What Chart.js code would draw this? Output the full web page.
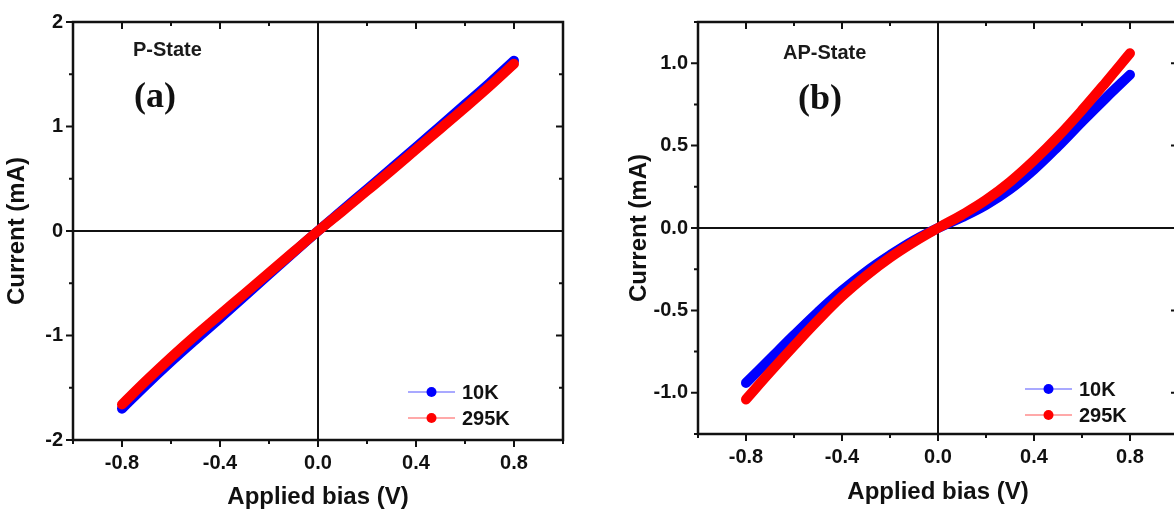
<!DOCTYPE html>
<html>
<head>
<meta charset="utf-8">
<script src="https://cdn.jsdelivr.net/npm/chart.js@4.4.1/dist/chart.umd.min.js"></script>
<style>
  html, body { margin: 0; padding: 0; background: #fff; overflow: hidden; width: 1174px; height: 516px; }
  #wrapA { position: absolute; left: 0; top: 0; width: 590px; height: 516px; }
  #wrapB { position: absolute; left: 592px; top: 0; width: 600px; height: 516px; }
  .state { position: absolute; font-family: 'Liberation Sans', Arial, sans-serif; font-weight: bold; font-size: 20px; color: #1a1a1a; line-height: 1; }
  .tag { position: absolute; font-family: 'Liberation Serif', 'Times New Roman', serif; font-weight: bold; font-size: 36px; color: #111; line-height: 1; }
</style>
</head>
<body>
<div id="wrapA"><canvas id="chartA"></canvas></div>
<div id="wrapB"><canvas id="chartB"></canvas></div>
<div class="state" style="left:133px; top:39px;">P-State</div>
<div class="tag" style="left:134px; top:77px;">(a)</div>
<div class="state" style="left:783px; top:42px;">AP-State</div>
<div class="tag" style="left:798px; top:79px;">(b)</div>

<script>
// datos (V, mA)
const biasVolts = [-0.8, -0.7, -0.6, -0.5, -0.4, -0.3, -0.2, -0.1, 0, 0.1, 0.2, 0.3, 0.4, 0.5, 0.6, 0.7, 0.8];

// (a) P-State
const pState10K  = [-1.70, -1.47, -1.25, -1.04, -0.835, -0.625, -0.415, -0.205, 0, 0.20, 0.40, 0.60, 0.80, 1.005, 1.21, 1.415, 1.63];
const pState295K = [-1.66, -1.43, -1.21, -1.00, -0.80, -0.60, -0.40, -0.20, 0, 0.19, 0.385, 0.58, 0.78, 0.98, 1.18, 1.385, 1.60];

// (b) AP-State
const apState10K  = [-0.94, -0.795, -0.65, -0.51, -0.38, -0.265, -0.165, -0.075, 0, 0.065, 0.14, 0.235, 0.355, 0.495, 0.645, 0.79, 0.93];
const apState295K = [-1.04, -0.875, -0.715, -0.56, -0.415, -0.29, -0.18, -0.085, 0, 0.08, 0.17, 0.28, 0.41, 0.555, 0.715, 0.885, 1.06];

const seriesLabels = ['10K', '295K'];
const seriesColors = ['#0000ff', '#ff0000'];

const xTickValues = [-0.8, -0.4, 0, 0.4, 0.8];
const xTickLabels = ['-0.8', '-0.4', '0.0', '0.4', '0.8'];
const pTickValues = [-2, -1, 0, 1, 2];
const pTickLabels = ['-2', '-1', '0', '1', '2'];
const apTickValues = [-1, -0.5, 0, 0.5, 1];
const apTickLabels = ['-1.0', '-0.5', '0.0', '0.5', '1.0'];

const tickFont = { family: "'Liberation Sans', Arial, sans-serif", weight: 'bold', size: 20 };
const titleFont = { family: "'Liberation Sans', Arial, sans-serif", weight: 'bold', size: 24 };
const inkColor = '#111';

function labelFrom(values, labels) {
    return (v) => {
        const i = values.findIndex(t => Math.abs(t - v) < 1e-6);
        return i >= 0 ? labels[i] : '';
    };
}

function isMajor(values, v) {
    return values.some(t => Math.abs(t - v) < 1e-6);
}

// marco negro + ticks (afuera abajo/izquierda, adentro arriba/derecha)
const frameTicks = {
    id: 'frameTicks',
    afterDraw(chart, args, opts) {
        const { ctx, chartArea: a } = chart;
        const xs = chart.scales.x, ys = chart.scales.y;
        ctx.save();
        ctx.strokeStyle = inkColor;
        ctx.lineWidth = 2.5;
        ctx.strokeRect(a.left, a.top, a.right - a.left, a.bottom - a.top);
        ctx.lineWidth = 2;
        ctx.beginPath();
        xs.ticks.forEach(t => {
            const px = xs.getPixelForValue(t.value);
            const len = isMajor(xTickValues, t.value) ? 7 : 4;
            ctx.moveTo(px, a.bottom); ctx.lineTo(px, a.bottom + len);
            ctx.moveTo(px, a.top); ctx.lineTo(px, a.top + len);
        });
        ys.ticks.forEach(t => {
            const py = ys.getPixelForValue(t.value);
            const len = isMajor(opts.yMajor, t.value) ? 7 : 4;
            ctx.moveTo(a.left, py); ctx.lineTo(a.left - len, py);
            ctx.moveTo(a.right, py); ctx.lineTo(a.right - len, py);
        });
        ctx.stroke();
        ctx.restore();
    }
};

// leyenda abajo a la derecha dentro del area
const cornerLegend = {
    id: 'cornerLegend',
    afterDraw(chart, args, opts) {
        const { ctx, chartArea: a } = chart;
        const x0 = a.right - opts.right;
        const x1 = x0 + 47;
        ctx.save();
        seriesLabels.forEach((lab, i) => {
            const y = a.bottom - opts.bottom + i * 26;
            ctx.strokeStyle = seriesColors[i];
            ctx.globalAlpha = 0.45;
            ctx.lineWidth = 1.5;
            ctx.beginPath(); ctx.moveTo(x0, y); ctx.lineTo(x1, y); ctx.stroke();
            ctx.globalAlpha = 1;
            ctx.fillStyle = seriesColors[i];
            ctx.beginPath(); ctx.arc((x0 + x1) / 2, y, 5, 0, Math.PI * 2); ctx.fill();
            ctx.fillStyle = inkColor;
            ctx.font = "bold 20px 'Liberation Sans', Arial, sans-serif";
            ctx.textBaseline = 'middle';
            ctx.fillText(lab, x1 + 7, y + 1);
        });
        ctx.restore();
    }
};

function makeDataset(label, values, color, order) {
    return {
        label: label,
        data: biasVolts.map((v, i) => ({ x: v, y: values[i] })),
        borderColor: color,
        backgroundColor: color,
        borderWidth: 10,
        borderCapStyle: 'round',
        borderJoinStyle: 'round',
        pointRadius: 0,
        showLine: true,
        tension: 0.4,
        order: order
    };
}

function zeroLine(ctx) {
    return Math.abs(ctx.tick.value) < 1e-9 ? inkColor : 'rgba(0,0,0,0)';
}

function buildChart(id, set10K, set295K, cfg) {
    return new Chart(document.getElementById(id), {
        type: 'scatter',
        data: {
            datasets: [
                makeDataset(seriesLabels[0], set10K, seriesColors[0], 1),
                makeDataset(seriesLabels[1], set295K, seriesColors[1], 0)
            ]
        },
        options: {
            responsive: true,
            maintainAspectRatio: false,
            animation: false,
            layout: { padding: cfg.padding },
            plugins: {
                legend: { display: false },
                tooltip: { enabled: false },
                frameTicks: { yMajor: cfg.yMajor },
                cornerLegend: cfg.legend
            },
            scales: {
                x: {
                    type: 'linear', min: -1, max: 1,
                    afterFit: (s) => { s.height = 76; },
                    ticks: { stepSize: 0.2, autoSkip: false, maxRotation: 0, padding: cfg.xTickPad, color: inkColor, font: tickFont, callback: labelFrom(xTickValues, xTickLabels) },
                    grid: { color: zeroLine, lineWidth: 2, drawTicks: false },
                    border: { display: false },
                    title: { display: true, text: 'Applied bias (V)', color: inkColor, font: titleFont, padding: { top: 0, bottom: cfg.xTitlePad } }
                },
                y: {
                    type: 'linear', min: cfg.yMin, max: cfg.yMax,
                    afterFit: (s) => { s.width = cfg.yWidth; },
                    ticks: { stepSize: cfg.yStep, autoSkip: false, padding: 10, color: inkColor, font: tickFont, callback: labelFrom(cfg.yMajor, cfg.yLabels) },
                    grid: { color: zeroLine, lineWidth: 2, drawTicks: false },
                    border: { display: false },
                    title: { display: true, text: 'Current (mA)', color: inkColor, font: titleFont, padding: { top: cfg.yTitlePad, bottom: 0 } }
                }
            }
        },
        plugins: [frameTicks, cornerLegend]
    });
}

document.addEventListener('DOMContentLoaded', () => {
    buildChart('chartA', pState10K, pState295K, {
        padding: { left: 0, right: 27, top: 17, bottom: 0 },
        yMin: -2, yMax: 2, yStep: 0.5, yWidth: 73,
        yMajor: pTickValues, yLabels: pTickLabels,
        xTickPad: 11, xTitlePad: 4, yTitlePad: 3,
        legend: { right: 155, bottom: 48 }
    });
    buildChart('chartB', apState10K, apState295K, {
        padding: { left: 30, right: 14, top: 17, bottom: 6 },
        yMin: -1.25, yMax: 1.25, yStep: 0.25, yWidth: 76,
        yMajor: apTickValues, yLabels: apTickLabels,
        xTickPad: 11, xTitlePad: 3, yTitlePad: 3,
        legend: { right: 153, bottom: 45 }
    });
});
</script>
</body>
</html>
